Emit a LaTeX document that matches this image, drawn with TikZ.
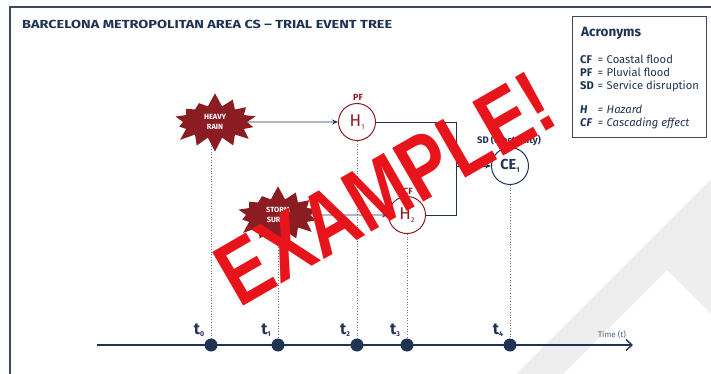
\documentclass[tikz,border=0pt]{standalone}
\usepackage{fontspec}
\setmainfont{Fira Sans}
\newfontfamily\exfont{Liberation Sans}
\usetikzlibrary{shapes.symbols,arrows.meta,backgrounds}
\definecolor{navy}{HTML}{1F3455}
\definecolor{framec}{HTML}{3E4A5C}
\definecolor{dred}{HTML}{8B1C22}
\definecolor{exred}{HTML}{E8141B}
\definecolor{wm}{HTML}{EEEEEE}
\newcommand\sbs[1]{\raisebox{-2.5pt}{\fontsize{7}{7}\selectfont #1}}
\begin{document}
\begin{tikzpicture}[x=1pt,y=-1pt,
  burst/.style={starburst, starburst points=14, starburst point height=14pt, random starburst=7,
    fill=dred, draw=none, text=white, font=\bfseries\fontsize{7.5}{10}\selectfont, align=center,
    minimum width=92pt, minimum height=60pt, inner sep=0pt},
  haz/.style={circle, draw=dred, line width=1pt, minimum size=37pt, inner sep=0pt, text=dred,
    font=\fontsize{17}{17}\selectfont},
  eff/.style={circle, draw=navy, line width=1pt, minimum size=37pt, inner sep=0pt, text=navy,
    font=\bfseries\fontsize{14.5}{15}\selectfont},
  hlab/.style={text=dred, font=\bfseries\fontsize{9}{10}\selectfont, inner sep=0pt},
  elab/.style={text=navy, font=\bfseries\fontsize{9.5}{10}\selectfont, inner sep=0pt},
  link/.style={draw=navy, line width=0.9pt},
  arr/.style={draw=navy, line width=0.9pt, -{Stealth[length=6pt,width=5pt]}},
  axis/.style={draw=navy, line width=1.4pt, -{Straight Barb[length=6pt,width=11pt,line width=1.4pt]}},
  vdot/.style={draw=black!55, line width=0.7pt, dotted},
  tdot/.style={circle, fill=navy, minimum size=13pt, inner sep=0pt},
  tlab/.style={text=navy, font=\bfseries\fontsize{16}{16}\selectfont, inner sep=0pt},
  acr/.style={text=navy, font=\fontsize{11.2}{12}\selectfont, inner sep=0pt, anchor=base west},
]
\useasboundingbox (0,0) rectangle (711,374);
% watermark
\fill[wm] (516,374) -- (711,179) -- (711,314) -- (667,270) -- (563,374) -- cycle;
% frame
\draw[framec, line width=1.1pt] (10,374) -- (10,7) -- (711,7);
% title
\node[anchor=base west, text=navy, font=\bfseries, inner sep=0pt] (title) at (22,28.5)
  {\resizebox{370pt}{8.3pt}{BARCELONA METROPOLITAN AREA CS – TRIAL EVENT TREE}};
% acronyms box
\node[draw=framec, line width=0.9pt, minimum width=134pt, minimum height=121pt, anchor=north west, inner sep=0pt] (box) at (572,16) {};
\node[anchor=base west, text=navy, font=\bfseries\fontsize{13.5}{14}\selectfont, inner sep=0pt] (acrt) at (581,37) {Acronyms};
\node[acr] (a1) at (580,64) {\makebox[17.5pt][l]{\bfseries CF}\makebox[9pt][l]{=}Coastal flood};
\node[acr] (a2) at (580,77) {\makebox[17.5pt][l]{\bfseries PF}\makebox[9pt][l]{=}Pluvial flood};
\node[acr] (a3) at (580,90) {\makebox[17.5pt][l]{\bfseries SD}\makebox[9pt][l]{=}Service disruption};
\node[acr] (a4) at (580,114) {\itshape\makebox[17.5pt][l]{\bfseries H}\makebox[9pt][l]{=}Hazard};
\node[acr] (a5) at (580,127) {\itshape\makebox[17.5pt][l]{\bfseries CF}\makebox[9pt][l]{=}Cascading effect};
% timeline
\coordinate (ts) at (97,345);
\coordinate (te) at (633,345);
\draw[axis] (ts) -- (te);
\node[tdot] (d0) at (211,345) {};
\node[tdot] (d1) at (278,345) {};
\node[tdot] (d2) at (357,345) {};
\node[tdot] (d3) at (407,345) {};
\node[tdot] (d4) at (510,345) {};
\node[tlab] (l0) at (199,330) {t\sbs{0}};
\node[tlab] (l1) at (266,330) {t\sbs{1}};
\node[tlab] (l2) at (345,330) {t\sbs{2}};
\node[tlab] (l3) at (395,330) {t\sbs{3}};
\node[tlab] (l4) at (498,330) {t\sbs{4}};
\node[text=navy!80, font=\fontsize{8}{8}\selectfont, inner sep=0pt] (time) at (612,335) {Time (t)};
% events
\node[burst] (hr) at (215,122) {HEAVY\\RAIN};
\node[burst] (ss) at (278,215) {STORM\\SURGE};
\node[haz] (h1) at (357,122) {H\sbs{1}};
\node[haz] (h2) at (407,215) {H\sbs{2}};
\node[eff] (ce) at (510,166) {CE\sbs{1}};
\node[hlab] (pf) at (358,97) {PF};
\node[hlab] (cf) at (408,191) {CF};
\node[elab] (sd) at (509,140) {SD (electricity)};
\coordinate (j1) at (456,122);
\coordinate (j2) at (456,215);
\coordinate (jm) at (456,166);
\draw[arr] (hr) -- (h1);
\draw[arr] (ss) -- (h2);
\draw[link] (h1) -- (j1) -- (j2) -- (h2);
\draw[arr] (jm) -- (ce);
\begin{pgfonlayer}{background}
\draw[vdot] (d0 |- hr.center) -- (d0);
\draw[vdot] (d1 |- ss.center) -- (d1);
\draw[vdot] (h1) -- (d2);
\draw[vdot] (h2) -- (d3);
\draw[vdot] (ce) -- (d4);
\end{pgfonlayer}
% overlay
\node[rotate=30, text=exred, font=\exfont\bfseries\fontsize{90}{90}\selectfont, inner sep=0pt] (ex) at (385,189)
  {\scalebox{0.80}[1]{EXAMPLE!}};
\end{tikzpicture}
\end{document}
